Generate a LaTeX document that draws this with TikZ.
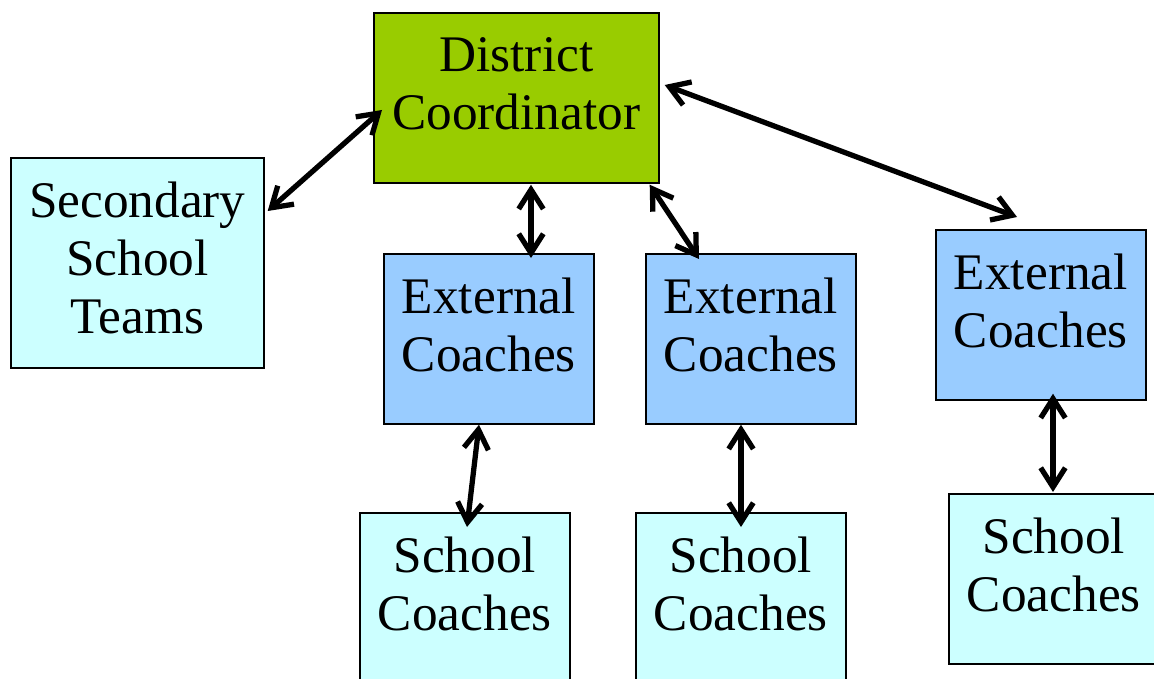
\documentclass[tikz,border=0pt]{standalone}
\usepackage{fontspec}
\setmainfont{Liberation Serif}
\usepackage{tikz}
\usetikzlibrary{arrows.meta,positioning,calc}
\usepackage{xcolor}

\definecolor{coordgreen}{HTML}{99CC00}
\definecolor{extblue}{HTML}{99CCFF}
\definecolor{schcyan}{HTML}{CCFFFF}

\tikzset{
  box/.style={draw=black, line width=1pt, inner sep=0pt, anchor=north west,
    minimum width=4.2cm, minimum height=3.4cm},
  boxtext/.style={anchor=north, inner sep=0pt, align=center,
    font=\fontsize{29.2}{33}\selectfont},
  link/.style={{Straight Barb[length=11pt,width=14pt]}-{Straight Barb[length=11pt,width=14pt]},
    line width=3pt}
}

\begin{document}
\begin{tikzpicture}[x=0.02cm, y=-0.02cm]
  \useasboundingbox (0,0) rectangle (1154,679);
  \clip (0,0) rectangle (1154,679);

  % Boxes
  \node[box, fill=coordgreen, minimum width=5.7cm] (dist) at (373,12) {};
  \node[box, fill=schcyan, minimum width=5.06cm, minimum height=4.2cm] (teams) at (10,157) {};
  \node[box, fill=extblue] (ext1) at (383,253) {};
  \node[box, fill=extblue] (ext2) at (645,253) {};
  \node[box, fill=extblue] (ext3) at (935,229) {};
  \node[box, fill=schcyan] (sch1) at (359,512) {};
  \node[box, fill=schcyan] (sch2) at (635,512) {};
  \node[box, fill=schcyan] (sch3) at (948,493) {};

  % Labels, hung from the top of each box
  \node[boxtext] (dist-t) at ($(dist.north)+(0,25)$) {District\\Coordinator};
  \node[boxtext] (teams-t) at ($(teams.north)+(0,25)$) {Secondary\\School\\Teams};
  \foreach \n in {ext1,ext2,ext3} {
    \node[boxtext] (\n-t) at ($(\n.north)+(0,25)$) {External\\Coaches};
  }
  \foreach \n in {sch1,sch2,sch3} {
    \node[boxtext] (\n-t) at ($(\n.north)+(0,25)$) {School\\Coaches};
  }

  % Two-way links
  \draw[link] ($(teams.north east)+(3,54)$) -- ($(dist.north west)+(9,98)$);
  \draw[link] ($(dist.south west)+(158,1)$) -- ($(ext1.north west)+(148,5)$);
  \draw[link] ($(dist.south east)+(-10,1)$) -- ($(ext2.north west)+(54,6)$);
  \draw[link] ($(dist.north east)+(5,73)$) -- ($(ext3.north west)+(82,-12)$);
  \draw[link] ($(ext1.south west)+(96,0)$) -- ($(sch1.north west)+(108,15)$);
  \draw[link] ($(ext2.south west)+(96,0)$) -- ($(sch2.north west)+(106,15)$);
  \draw[link] ($(ext3.south west)+(118,-7)$) -- ($(sch3.north west)+(105,-1)$);
\end{tikzpicture}
\end{document}
